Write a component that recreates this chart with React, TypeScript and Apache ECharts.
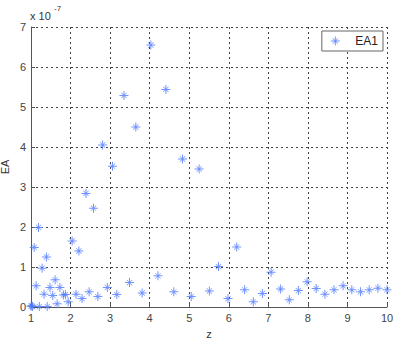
import React, { useEffect, useRef } from "react";
import * as echarts from "echarts";

const zValues: number[] = [
  1.0, 1.02, 1.04, 1.21, 1.41, 1.08, 1.19, 1.13, 1.28, 1.39, 1.33, 1.48, 1.55, 1.61, 1.66, 1.73,
  1.82, 1.87, 1.94, 2.04, 2.14, 2.21, 2.29, 2.39, 2.47, 2.58, 2.69, 2.81, 2.93, 3.06, 3.17, 3.35,
  3.49, 3.65, 3.81, 4.03, 4.21, 4.41, 4.61, 4.83, 5.05, 5.25, 5.51, 5.74, 5.98, 6.2, 6.4, 6.62,
  6.85, 7.07, 7.31, 7.53, 7.76, 7.98, 8.21, 8.43, 8.66, 8.89, 9.11, 9.33, 9.55, 9.77, 10.0,
];
// EA values in units of 1e-7
const eaValues: number[] = [
  0.02, 0.03, 0.01, 0.01, 0.01, 1.49, 1.99, 0.53, 0.97, 1.25, 0.32, 0.49, 0.29, 0.68, 0.08, 0.49,
  0.3, 0.31, 0.13, 1.65, 0.32, 1.4, 0.21, 2.84, 0.38, 2.47, 0.26, 4.05, 0.49, 3.52, 0.31, 5.29,
  0.61, 4.5, 0.35, 6.55, 0.78, 5.44, 0.38, 3.7, 0.26, 3.45, 0.4, 1.01, 0.21, 1.5, 0.43, 0.13,
  0.34, 0.87, 0.45, 0.18, 0.41, 0.63, 0.46, 0.32, 0.43, 0.53, 0.43, 0.38, 0.43, 0.47, 0.43,
];
const seriesName = "EA1";
const xTicks = { min: 1, max: 10, interval: 1 };
const yTicks = { min: 0, max: 7, interval: 1 };

const ASTERISK =
  "path://M8.9 0H11.1V8.9H20V11.1H11.1V20H8.9V11.1H0V8.9H8.9Z" +
  "M3.6 4.6L4.6 3.6L16.4 15.4L15.4 16.4Z" +
  "M15.4 3.6L16.4 4.6L4.6 16.4L3.6 15.4Z";

const FONT = "Liberation Sans, Arial, sans-serif";

export default function App() {
  const ref = useRef<HTMLDivElement>(null);
  useEffect(() => {
    if (!ref.current) return;
    const chart = echarts.init(ref.current, null, { renderer: "svg" });
    const data = zValues.map((z, i) => [z, eaValues[i]]);
    const gridLine = { show: true, lineStyle: { color: "#444", type: [2, 3] as any, width: 1 } };
    chart.setOption({
      animation: false,
      backgroundColor: "#fff",
      textStyle: { fontFamily: FONT },
      grid: { left: 31, right: 13, top: 27, bottom: 32, containLabel: false, outerBoundsMode: "none" },
      legend: {
        right: 17,
        top: 31,
        orient: "vertical",
        backgroundColor: "#fff",
        borderColor: "#666",
        borderWidth: 1,
        padding: [4, 5, 4, 9],
        itemWidth: 30,
        itemHeight: 9,
        itemGap: 0,
        textStyle: { fontSize: 12, color: "#222", fontFamily: FONT },
        data: [{ name: seriesName, icon: ASTERISK }],
      },
      graphic: [
        { type: "text", left: 30, top: 10, style: { text: "x 10", fontSize: 11, fill: "#333", fontFamily: FONT } },
        { type: "text", left: 54, top: 4, style: { text: "-7", fontSize: 8, fill: "#333", fontFamily: FONT } },
      ],
      xAxis: {
        type: "value",
        min: xTicks.min,
        max: xTicks.max,
        interval: xTicks.interval,
        name: "z",
        nameLocation: "middle",
        nameGap: 21,
        nameMoveOverlap: false,
        nameTextStyle: { fontSize: 11, color: "#333" },
        axisLine: { show: true, onZero: false, lineStyle: { color: "#555", width: 1 } },
        axisTick: { show: true, inside: true, length: 4, lineStyle: { color: "#555" } },
        axisLabel: { fontSize: 11, color: "#444", margin: 5 },
        splitLine: gridLine,
      },
      yAxis: {
        type: "value",
        min: yTicks.min,
        max: yTicks.max,
        interval: yTicks.interval,
        name: "EA",
        nameLocation: "middle",
        nameGap: 21,
        nameMoveOverlap: false,
        nameTextStyle: { fontSize: 11, color: "#333" },
        axisLine: { show: true, onZero: false, lineStyle: { color: "#555", width: 1 } },
        axisTick: { show: true, inside: true, length: 4, lineStyle: { color: "#555" } },
        axisLabel: { fontSize: 11, color: "#444", margin: 5 },
        splitLine: gridLine,
      },
      series: [
        {
          name: seriesName,
          type: "scatter",
          data,
          symbol: ASTERISK,
          symbolSize: 9,
          itemStyle: { color: "#4d78ff" },
          clip: false,
        },
      ],
    });
    return () => chart.dispose();
  }, []);
  return <div ref={ref} style={{ position: "fixed", left: 0, top: 0, width: 400, height: 339 }} />;
}
